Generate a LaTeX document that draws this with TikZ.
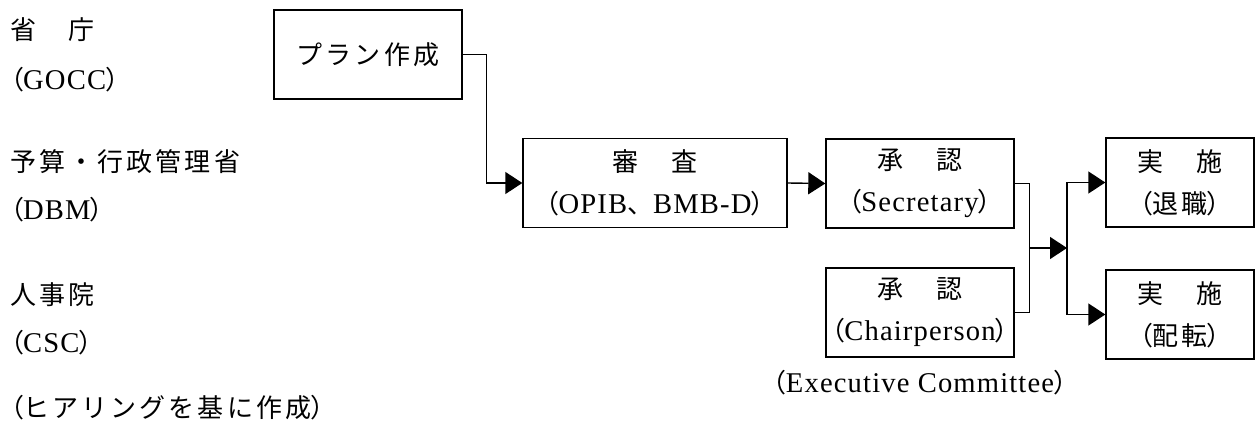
\documentclass[tikz,border=0pt]{standalone}
\usepackage{fontspec}
\setmainfont{Liberation Serif}[Scale=1.1,LetterSpace=4]
\newfontfamily\jp{Noto Sans CJK JP}[Scale=1.0,LetterSpace=12]
\newfontfamily\jpp{Noto Sans CJK JP}[Scale=1.0,RawFeature=+palt]
\usetikzlibrary{arrows.meta}
\newcommand\jlp{{\jpp （}}
\newcommand\jrp{{\jpp ）}}
\begin{document}
\begin{tikzpicture}[x=1pt,y=-1pt,
  every node/.style={font=\fontsize{26}{42}\selectfont, inner sep=0pt},
  box/.style={draw, line width=1.4pt, align=center, minimum height=89pt},
  lbl/.style={anchor=base west},
  conn/.style={line width=1.4pt},
  arr/.style={conn, -{Triangle[length=17pt,width=22pt]}}]
\useasboundingbox (0,0) rectangle (1256,426);
% left column
\node[lbl] (t1) at (10,39) {\jp 省　庁};
\node[lbl] (t2) at (10,89) {\jlp GOCC\jrp};
\node[lbl] (t3) at (10,171) {\jp 予算・行政管理省};
\node[lbl] (t4) at (10,219) {\jlp DBM\jrp};
\node[lbl] (t5) at (10,304) {\jp 人事院};
\node[lbl] (t6) at (10,352) {\jlp CSC\jrp};
\node[lbl] (t7) at (10,417) {\jlp{\jp ヒアリングを基に作成}\jrp};
% boxes
\node[box, minimum width=188pt] (plan) at (368,54.5) {\jp プラン作成};
\node[box, minimum width=264pt] (shinsa) at (655,183) {\jp 審　査\\\jlp OPIB{\jp 、}BMB-D\jrp};
\node[box, minimum width=188pt] (sec) at (920,183.5) {\jp 承　認\\\jlp Secretary\jrp};
\node[box, minimum width=188pt] (chair) at (920,312.5) {\jp 承　認\\\jlp Chairperson\jrp};
\node[box, minimum width=148pt] (ret) at (1180,182.5) {\jp 実　施\\\jlp{\jp 退職}\jrp};
\node[box, minimum width=148pt] (trans) at (1180,314.5) {\jp 実　施\\\jlp{\jp 配転}\jrp};
\node (exec) at (920,383) {\jlp Executive Committee\jrp};
% connectors
\draw[arr] (plan.east) -- ++(24,0) |- (shinsa.west);
\draw[arr] (shinsa.east) -- (sec.west);
\draw[conn] (sec.east) -- ++(15,0) |- (chair.east);
\coordinate (j1) at (1029,248);
\coordinate (j2) at (1067,248);
\draw[arr] (j1) -- (j2);
\draw[arr] (j2) |- (ret.west);
\draw[arr] (j2) |- (trans.west);
\end{tikzpicture}
\end{document}
